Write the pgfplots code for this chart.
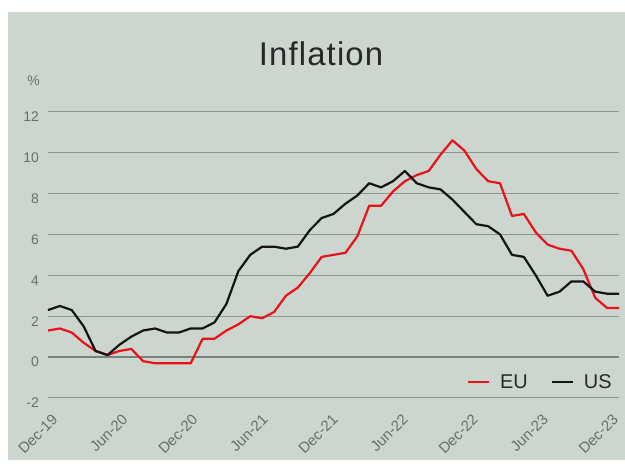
\documentclass[border=0pt]{standalone}
\usepackage{fontspec}
\setmainfont{Liberation Sans}
\usepackage{pgfplots}
\pgfplotsset{compat=1.18}
\definecolor{panel}{RGB}{205,213,207}
\definecolor{gridc}{RGB}{140,150,143}
\definecolor{zeroc}{RGB}{120,130,124}
\definecolor{eured}{RGB}{232,18,24}
\definecolor{tickc}{RGB}{105,110,107}
\definecolor{titlec}{RGB}{40,40,40}

\pgfplotstableread{
x eu us
0 1.3 2.3
1 1.4 2.5
2 1.2 2.3
3 0.7 1.5
4 0.3 0.3
5 0.1 0.1
6 0.3 0.6
7 0.4 1.0
8 -0.2 1.3
9 -0.3 1.4
10 -0.3 1.2
11 -0.3 1.2
12 -0.3 1.4
13 0.9 1.4
14 0.9 1.7
15 1.3 2.6
16 1.6 4.2
17 2.0 5.0
18 1.9 5.4
19 2.2 5.4
20 3.0 5.3
21 3.4 5.4
22 4.1 6.2
23 4.9 6.8
24 5.0 7.0
25 5.1 7.5
26 5.9 7.9
27 7.4 8.5
28 7.4 8.3
29 8.1 8.6
30 8.6 9.1
31 8.9 8.5
32 9.1 8.3
33 9.9 8.2
34 10.6 7.7
35 10.1 7.1
36 9.2 6.5
37 8.6 6.4
38 8.5 6.0
39 6.9 5.0
40 7.0 4.9
41 6.1 4.0
42 5.5 3.0
43 5.3 3.2
44 5.2 3.7
45 4.3 3.7
46 2.9 3.2
47 2.4 3.1
48 2.4 3.1
}\datatable

\begin{document}
\begin{tikzpicture}[x=1bp,y=1bp]
\path[use as bounding box] (0,0) rectangle (625,466);
\fill[white] (0,0) rectangle (625,466);
\fill[panel] (8,6) rectangle (625,454);
\node[anchor=base, text=titlec, font=\fontsize{33}{36}\selectfont\addfontfeatures{LetterSpace=3.5}, inner sep=0pt] at (321,400) {Inflation};
\node[anchor=east, text=tickc, font=\fontsize{14}{16}\selectfont, inner sep=0pt] at (40,385.5) {\%};
\begin{axis}[
  at={(48bp,68bp)}, anchor=south west,
  width=571bp, height=286.3bp, scale only axis,
  xmin=0, xmax=48, ymin=-2, ymax=12,
  axis line style={draw=none},
  major tick length=0pt,
  tick style={draw=none},
  ytick={-2,0,2,4,6,8,10,12},
  ymajorgrids,
  grid style={gridc, line width=1bp},
  extra y ticks={0},
  extra y tick labels={},
  extra y tick style={grid style={zeroc, line width=1.4bp}},
  xtick={0.26,6.15,12.04,17.93,23.82,29.71,35.60,41.49,47.38},
  xticklabels={Dec-19,Jun-20,Dec-20,Jun-21,Dec-21,Jun-22,Dec-22,Jun-23,Dec-23},
  xticklabel shift=15bp,
  xticklabel style={rotate=45, anchor=north east, inner sep=0pt, font=\fontsize{15}{17}\selectfont, text=tickc},
  yticklabel shift=9bp,
  yticklabel style={anchor=east, inner sep=0pt, yshift=-5bp, font=\fontsize{14}{16}\selectfont, text=tickc},
  /pgf/number format/assume math mode=true,
  clip=false,
  legend columns=2,
  legend style={at={(0.987,0.0534)}, anchor=east, draw=none, fill=none, inner sep=0pt, outer sep=0pt,
    font=\fontsize{20}{24}\selectfont, text=titlec, nodes={inner sep=0pt},
    /tikz/every odd column/.append style={column sep=10bp},
    /tikz/every even column/.append style={column sep=23bp}},
  legend image code/.code={\draw[#1] (0bp,1bp) -- (21bp,1bp);},
]
\addplot[eured, line width=2.2bp, line join=round] table[x=x, y=eu] {\datatable};
\addlegendentry{EU}
\addplot[black!92, line width=2.2bp, line join=round] table[x=x, y=us] {\datatable};
\addlegendentry{US}
\end{axis}
\end{tikzpicture}
\end{document}
